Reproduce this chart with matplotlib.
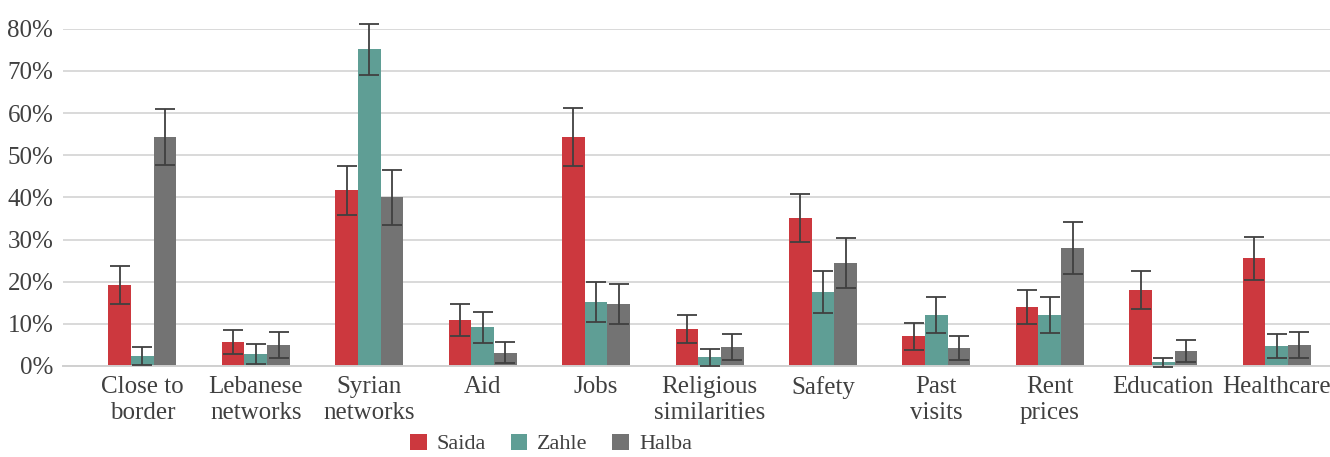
import numpy as np
import matplotlib.pyplot as plt

categories = ["Close to\nborder", "Lebanese\nnetworks", "Syrian\nnetworks", "Aid", "Jobs",
              "Religious\nsimilarities", "Safety", "Past\nvisits", "Rent\nprices",
              "Education", "Healthcare"]
series = ["Saida", "Zahle", "Halba"]

saida = [19.2, 5.7, 41.7, 10.9, 54.3, 8.8, 35.1, 7.1, 14.0, 18.0, 25.6]
zahle = [2.4, 2.8, 75.1, 9.2, 15.2, 2.1, 17.5, 12.1, 12.1, 0.9, 4.7]
halba = [54.3, 5.0, 40.0, 3.1, 14.7, 4.5, 24.4, 4.3, 28.0, 3.6, 5.0]

saida_err = [4.5, 2.8, 5.8, 3.7, 6.8, 3.3, 5.7, 3.2, 4.1, 4.5, 5.1]
zahle_err = [2.1, 2.4, 6.1, 3.7, 4.8, 2.0, 5.0, 4.2, 4.2, 1.1, 2.9]
halba_err = [6.7, 3.0, 6.6, 2.5, 4.8, 3.0, 6.0, 2.8, 6.2, 2.6, 3.1]

colors = ["#CC383E", "#5F9E95", "#737373"]
font = "Liberation Serif"

fig = plt.figure(figsize=(13.3, 4.57), dpi=100)
ax = fig.add_axes([63 / 1330, 1 - 366 / 457, 1 - 63 / 1330, (366 - 28.7) / 457])

x = np.arange(len(categories))
w = 0.2
for i, (vals, errs) in enumerate(zip([saida, zahle, halba], [saida_err, zahle_err, halba_err])):
    pos = x + (i - 1) * w
    v = np.array(vals) / 100
    ax.bar(pos, v, w, color=colors[i], label=series[i], zorder=2)
    ax.errorbar(pos, v, yerr=np.array(errs) / 100, fmt="none", ecolor="#404040",
                elinewidth=1.3, capsize=7.5, capthick=1.3, zorder=3, clip_on=False)

ax.set_ylim(0, 0.8)
ax.set_xlim(-0.7, 10.47)
ax.set_yticks(np.arange(0, 0.81, 0.1))
ax.set_yticklabels([f"{int(round(v * 100))}%" for v in np.arange(0, 0.81, 0.1)])
ax.set_xticks(x)
ax.set_xticklabels(categories)
ax.grid(axis="y", color="#D9D9D9", linewidth=1.4, zorder=0)
ax.set_axisbelow(True)
for s in ["top", "right", "left"]:
    ax.spines[s].set_visible(False)
ax.spines["bottom"].set_color("#D0D0D0")
ax.spines["bottom"].set_linewidth(1.4)
ax.tick_params(axis="both", length=0, labelsize=18, colors="#404040")
ax.tick_params(axis="x", pad=7)
ax.tick_params(axis="y", pad=7)
for lbl in ax.get_xticklabels() + ax.get_yticklabels():
    lbl.set_family(font)
    lbl.set_linespacing(1.25)

fig.legend(loc="center", bbox_to_anchor=(551 / 1330, 1 - 444 / 457), ncol=3, frameon=False,
           prop={"family": font, "size": 16}, handlelength=0.75, handleheight=0.75,
           columnspacing=1.1, handletextpad=0.45, labelcolor="#404040", borderpad=0.2)

fig.savefig("out.png", dpi=100)
